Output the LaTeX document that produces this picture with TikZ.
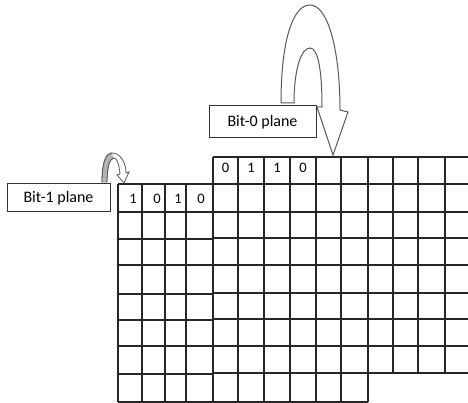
\documentclass[tikz,border=0pt]{standalone}
\usepackage{fontspec}
\setmainfont{Carlito}
\usetikzlibrary{positioning}

\tikzset{
  gridline/.style={line width=1.1pt,black!85},
  planebox/.style={draw,line width=1pt,black!80,fill=white,text=black,minimum width=103pt,minimum height=28pt,inner sep=0pt,font=\fontsize{16}{18}\selectfont},
  bitval/.style={inner sep=0pt,text=black,font=\fontsize{14.5}{16}\selectfont},
  bigarrow/.style={draw=black!65,line width=1pt,fill=white},
}

\begin{document}
\begin{tikzpicture}[x=1pt,y=-1pt]
\clip (0,0) rectangle (468,403);
\fill[white] (0,0) rectangle (468,403);

% bit-1 plane grid
\foreach \x in {118,142,165,186}
  \draw[gridline] (\x,184) -- (\x,402);
\foreach \y in {184,212,239,265,294,320,346,374,402}
  \draw[gridline] (118,\y) -- (213,\y);

% bit-0 plane grid
\foreach \x in {213,238,264,290,316,341,368}
  \draw[gridline] (\x,157) -- (\x,402);
\foreach \x in {393,418,445,470}
  \draw[gridline] (\x,157) -- (\x,373);
\foreach \y in {157,184,212,238,265,293,319,346,373}
  \draw[gridline] (213,\y) -- (470,\y);
\draw[gridline] (213,402) -- (368,402);

% bits
\node[bitval] (b10) at (133,199) {1};
\node[bitval] (b11) at (157,199) {0};
\node[bitval] (b12) at (178,199) {1};
\node[bitval] (b13) at (201,199) {0};

\node[bitval] (b00) at (225.5,168) {0};
\node[bitval] (b01) at (251,168) {1};
\node[bitval] (b02) at (277,168) {1};
\node[bitval] (b03) at (303,168) {0};

% labels
\node[planebox] (bitone) at (58.5,198) {Bit-1 plane\hspace{5pt}};
\node[planebox,minimum width=107pt,minimum height=32pt] (bitzero) at (262.5,122) {Bit-0 plane\hspace{5pt}};

% big curved arrow
\filldraw[bigarrow] (281,103) .. controls (281,40) and (293,5) .. (310,5)
  .. controls (328,5) and (340,50) .. (340,110) -- (348,112) -- (333,155)
  -- (317,107) -- (322,107) .. controls (322,70) and (318,48) .. (310,48)
  .. controls (301,48) and (294,70) .. (294,103) -- cycle;

% small curved arrow
\filldraw[bigarrow,line width=0.8pt] (102,182) .. controls (102,162) and (106,153) .. (112,153)
  .. controls (120,153) and (126,162) .. (126,173) -- (129,172) -- (124,183)
  -- (117,175) -- (120,174) .. controls (119,164) and (117,158) .. (114,158)
  .. controls (110,158) and (107,166) .. (107,182) -- cycle;
\fill[black!30] (102.5,181.5) .. controls (102.5,162) and (106,153.5) .. (112,153.5)
  -- (114,158.5) .. controls (110,158.5) and (106.5,166) .. (106.5,181.5) -- cycle;
\draw[black!65,line width=0.8pt] (102,182) .. controls (102,162) and (106,153) .. (112,153);
\draw[black!65,line width=0.8pt] (114,158) .. controls (110,158) and (107,166) .. (107,182);
\end{tikzpicture}
\end{document}
